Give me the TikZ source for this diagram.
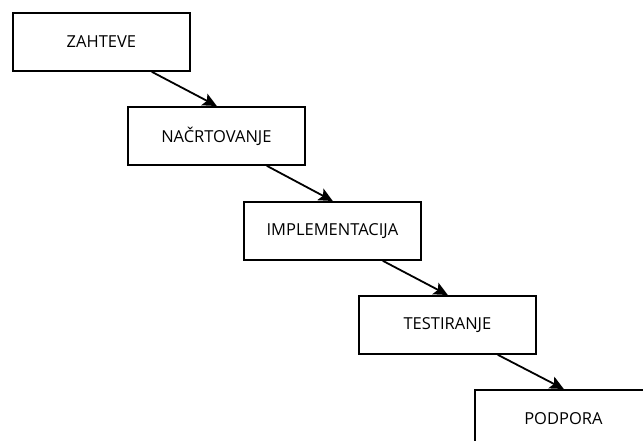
\documentclass[tikz,border=0pt]{standalone}
\usepackage{fontspec}
\setmainfont{Open Sans}
\usetikzlibrary{arrows.meta}
\begin{document}
\begin{tikzpicture}[x=1pt,y=-1pt,
  stagebox/.style={draw,line width=1.8pt,minimum width=177pt,minimum height=58pt,anchor=north west,inner sep=0pt,font=\fontsize{16.5}{20}\selectfont},
  flow/.style={line width=1.8pt,-{Stealth[length=14pt,width=13pt,inset=3pt]}}]
\useasboundingbox (0,0) rectangle (643,441);
\begin{scope}
\clip (0,0) rectangle (643,441);
\node[stagebox] (a) at (12,12) {ZAHTEVE};
\node[stagebox] (b) at (127,106) {NAČRTOVANJE};
\node[stagebox] (c) at (243,201) {IMPLEMENTACIJA};
\node[stagebox] (d) at (358,295) {TESTIRANJE};
\node[stagebox] (e) at (474,389) {PODPORA};
\draw[flow] ([xshift=-39pt]a.south east) -- ([xshift=-89pt]b.north east);
\draw[flow] ([xshift=-39pt]b.south east) -- ([xshift=-89pt]c.north east);
\draw[flow] ([xshift=-39pt]c.south east) -- ([xshift=-89pt]d.north east);
\draw[flow] ([xshift=-39pt]d.south east) -- ([xshift=-89pt]e.north east);
\end{scope}
\end{tikzpicture}
\end{document}
